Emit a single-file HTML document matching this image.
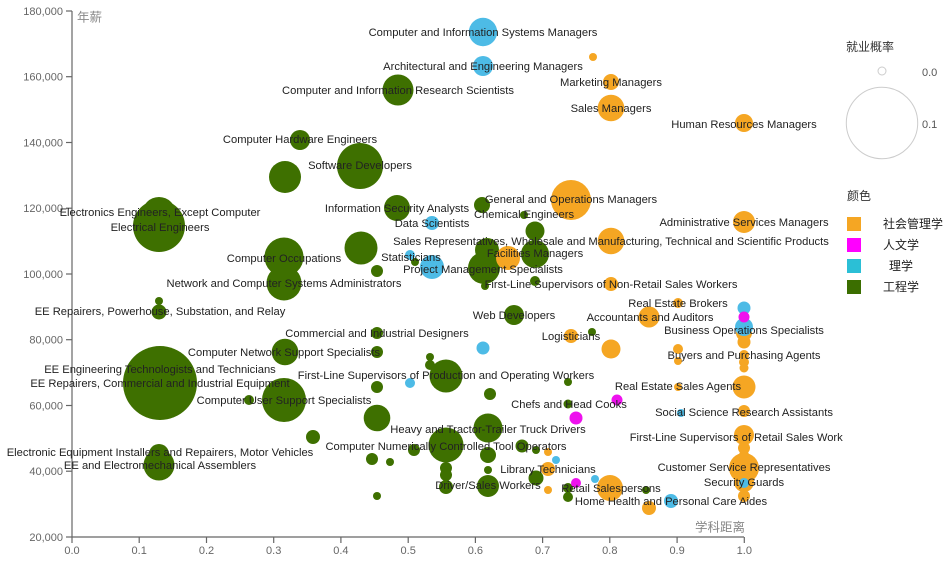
<!DOCTYPE html>
<html>
<head>
<meta charset="utf-8">
<style>
html,body{margin:0;padding:0;background:#fff;}
svg{display:block;}
text{font-family:"Liberation Sans","Noto Sans CJK SC",sans-serif;}
.lbl{font-size:11.2px;fill:#222;text-anchor:middle;}
.tk{font-size:11px;fill:#666;}
</style>
</head>
<body>
<svg width="945" height="561" viewBox="0 0 945 561" xmlns="http://www.w3.org/2000/svg">
<defs>
<clipPath id="cp"><rect x="0" y="0" width="843" height="561"/></clipPath>
</defs>

<!-- axes -->
<g stroke="#666" stroke-width="1.2" fill="none">
<line x1="72" y1="11" x2="72" y2="537"/>
<line x1="72" y1="537" x2="744" y2="537"/>
<line x1="66" y1="11" x2="72" y2="11"/>
<line x1="66" y1="76.7" x2="72" y2="76.7"/>
<line x1="66" y1="142.5" x2="72" y2="142.5"/>
<line x1="66" y1="208.2" x2="72" y2="208.2"/>
<line x1="66" y1="274" x2="72" y2="274"/>
<line x1="66" y1="339.7" x2="72" y2="339.7"/>
<line x1="66" y1="405.5" x2="72" y2="405.5"/>
<line x1="66" y1="471.2" x2="72" y2="471.2"/>
<line x1="66" y1="537" x2="72" y2="537"/>
<line x1="72" y1="537" x2="72" y2="543"/>
<line x1="139.2" y1="537" x2="139.2" y2="543"/>
<line x1="206.5" y1="537" x2="206.5" y2="543"/>
<line x1="273.7" y1="537" x2="273.7" y2="543"/>
<line x1="340.9" y1="537" x2="340.9" y2="543"/>
<line x1="408.2" y1="537" x2="408.2" y2="543"/>
<line x1="475.4" y1="537" x2="475.4" y2="543"/>
<line x1="542.6" y1="537" x2="542.6" y2="543"/>
<line x1="609.8" y1="537" x2="609.8" y2="543"/>
<line x1="677.1" y1="537" x2="677.1" y2="543"/>
<line x1="744.3" y1="537" x2="744.3" y2="543"/>
</g>
<g class="tk" text-anchor="end">
<text x="63" y="11" dy="0.35em">180,000</text>
<text x="63" y="76.7" dy="0.35em">160,000</text>
<text x="63" y="142.5" dy="0.35em">140,000</text>
<text x="63" y="208.2" dy="0.35em">120,000</text>
<text x="63" y="274" dy="0.35em">100,000</text>
<text x="63" y="339.7" dy="0.35em">80,000</text>
<text x="63" y="405.5" dy="0.35em">60,000</text>
<text x="63" y="471.2" dy="0.35em">40,000</text>
<text x="63" y="537" dy="0.35em">20,000</text>
</g>
<g class="tk" text-anchor="middle">
<text x="72" y="554">0.0</text>
<text x="139.2" y="554">0.1</text>
<text x="206.5" y="554">0.2</text>
<text x="273.7" y="554">0.3</text>
<text x="340.9" y="554">0.4</text>
<text x="408.2" y="554">0.5</text>
<text x="475.4" y="554">0.6</text>
<text x="542.6" y="554">0.7</text>
<text x="609.8" y="554">0.8</text>
<text x="677.1" y="554">0.9</text>
<text x="744.3" y="554">1.0</text>
</g>
<text x="77" y="17" dy="0.35em" font-size="12.5" fill="#888">年薪</text>
<text x="745" y="527" dy="0.35em" font-size="12.5" fill="#888" text-anchor="end">学科距离</text>

<!-- green circles -->
<g fill="#3e7000">
<circle cx="300" cy="140" r="10"/>
<circle cx="285" cy="177" r="16"/>
<circle cx="360" cy="166" r="23"/>
<circle cx="398" cy="90" r="15.5"/>
<circle cx="159" cy="226" r="26"/>
<circle cx="159" cy="214" r="17"/>
<circle cx="397" cy="208" r="13"/>
<circle cx="482" cy="205" r="8"/>
<circle cx="524" cy="215" r="4"/>
<circle cx="535" cy="231" r="9.5"/>
<circle cx="361" cy="248" r="16.5"/>
<circle cx="284" cy="257" r="19.5"/>
<circle cx="284" cy="283" r="17.5"/>
<circle cx="415" cy="262" r="4"/>
<circle cx="377" cy="271" r="6"/>
<circle cx="487" cy="250" r="12"/>
<circle cx="484" cy="268" r="16"/>
<circle cx="535" cy="254" r="14"/>
<circle cx="535" cy="281" r="5"/>
<circle cx="485" cy="286" r="4"/>
<circle cx="159" cy="301" r="4"/>
<circle cx="159" cy="312" r="7.5"/>
<circle cx="514" cy="315" r="10"/>
<circle cx="592" cy="332" r="4"/>
<circle cx="377" cy="333" r="6"/>
<circle cx="285" cy="352" r="13.3"/>
<circle cx="377" cy="352" r="6"/>
<circle cx="430" cy="357" r="4"/>
<circle cx="430" cy="365" r="5"/>
<circle cx="446" cy="376" r="16.5"/>
<circle cx="160" cy="383" r="37"/>
<circle cx="377" cy="387" r="6"/>
<circle cx="568" cy="382" r="4"/>
<circle cx="490" cy="394" r="6"/>
<circle cx="284" cy="400" r="22"/>
<circle cx="249" cy="400" r="5"/>
<circle cx="568" cy="404" r="4.5"/>
<circle cx="377" cy="418" r="13.3"/>
<circle cx="488" cy="428" r="14.5"/>
<circle cx="313" cy="437" r="7"/>
<circle cx="446" cy="445" r="17.5"/>
<circle cx="414" cy="450" r="6"/>
<circle cx="522" cy="446" r="6.5"/>
<circle cx="536" cy="450" r="4"/>
<circle cx="488" cy="455" r="8"/>
<circle cx="372" cy="459" r="6"/>
<circle cx="390" cy="462" r="4"/>
<circle cx="446" cy="468" r="6"/>
<circle cx="446" cy="475" r="6"/>
<circle cx="446" cy="487" r="7"/>
<circle cx="488" cy="470" r="4"/>
<circle cx="536" cy="478" r="7.5"/>
<circle cx="488" cy="486" r="11"/>
<circle cx="568" cy="488" r="5"/>
<circle cx="568" cy="497" r="5"/>
<circle cx="377" cy="496" r="4"/>
<circle cx="646" cy="490" r="4"/>
<circle cx="159" cy="454" r="10"/>
<circle cx="159" cy="465" r="15.5"/>
</g>

<!-- orange circles -->
<g fill="#f5a623">
<circle cx="593" cy="57" r="4"/>
<circle cx="611" cy="82" r="8"/>
<circle cx="611" cy="108" r="13.3"/>
<circle cx="744" cy="123" r="9"/>
<circle cx="571" cy="200" r="20"/>
<circle cx="611" cy="241" r="13.3"/>
<circle cx="508" cy="258" r="12"/>
<circle cx="611" cy="284" r="7"/>
<circle cx="744" cy="222" r="11"/>
<circle cx="678" cy="303" r="5"/>
<circle cx="649" cy="317" r="10.5"/>
<circle cx="744" cy="333" r="8"/>
<circle cx="744" cy="342" r="6.5"/>
<circle cx="744" cy="355" r="5"/>
<circle cx="744" cy="362" r="5"/>
<circle cx="744" cy="368" r="4.5"/>
<circle cx="571" cy="336" r="7"/>
<circle cx="611" cy="349" r="9.5"/>
<circle cx="678" cy="349" r="5"/>
<circle cx="678" cy="361" r="4"/>
<circle cx="678" cy="387" r="4"/>
<circle cx="744" cy="387" r="11.5"/>
<circle cx="744" cy="411" r="6"/>
<circle cx="744" cy="435" r="10"/>
<circle cx="744" cy="448" r="6"/>
<circle cx="744" cy="455" r="5"/>
<circle cx="744" cy="468" r="15"/>
<circle cx="744" cy="482" r="10"/>
<circle cx="744" cy="496" r="6"/>
<circle cx="548" cy="452" r="4"/>
<circle cx="548" cy="469" r="7"/>
<circle cx="548" cy="490" r="4"/>
<circle cx="610" cy="488" r="13"/>
<circle cx="649" cy="508" r="7"/>
</g>

<!-- cyan circles -->
<g fill="#4dbbe6">
<circle cx="483" cy="32" r="14.2"/>
<circle cx="483" cy="66" r="10"/>
<circle cx="432" cy="223" r="7"/>
<circle cx="410" cy="255" r="5"/>
<circle cx="432" cy="267" r="12"/>
<circle cx="483" cy="348" r="6.5"/>
<circle cx="410" cy="383" r="5"/>
<circle cx="556" cy="460" r="4"/>
<circle cx="595" cy="479" r="4"/>
<circle cx="744" cy="308" r="6.5"/>
<circle cx="744" cy="327" r="9"/>
<circle cx="681" cy="413" r="4"/>
<circle cx="744" cy="483" r="5"/>
<circle cx="671" cy="501" r="7"/>
</g>

<!-- magenta circles -->
<g fill="#ee11ee">
<circle cx="744" cy="317" r="5.5"/>
<circle cx="617" cy="400" r="5.5"/>
<circle cx="576" cy="418" r="6.5"/>
<circle cx="576" cy="483" r="5"/>
</g>

<!-- labels -->
<g class="lbl" clip-path="url(#cp)">
<text x="483" y="32" dy="0.35em">Computer and Information Systems Managers</text>
<text x="483" y="66" dy="0.35em">Architectural and Engineering Managers</text>
<text x="611" y="82" dy="0.35em">Marketing Managers</text>
<text x="398" y="90" dy="0.35em">Computer and Information Research Scientists</text>
<text x="611" y="108" dy="0.35em">Sales Managers</text>
<text x="744" y="124" dy="0.35em">Human Resources Managers</text>
<text x="300" y="139" dy="0.35em">Computer Hardware Engineers</text>
<text x="360" y="165" dy="0.35em">Software Developers</text>
<text x="571" y="199" dy="0.35em">General and Operations Managers</text>
<text x="160" y="212" dy="0.35em">Electronics Engineers, Except Computer</text>
<text x="397" y="208" dy="0.35em">Information Security Analysts</text>
<text x="524" y="214" dy="0.35em">Chemical Engineers</text>
<text x="744" y="222" dy="0.35em">Administrative Services Managers</text>
<text x="432" y="223" dy="0.35em">Data Scientists</text>
<text x="160" y="227" dy="0.35em">Electrical Engineers</text>
<text x="611" y="241" dy="0.35em">Sales Representatives, Wholesale and Manufacturing, Technical and Scientific Products</text>
<text x="535" y="253" dy="0.35em">Facilities Managers</text>
<text x="411" y="257" dy="0.35em">Statisticians</text>
<text x="284" y="258" dy="0.35em">Computer Occupations</text>
<text x="483" y="269" dy="0.35em">Project Management Specialists</text>
<text x="284" y="283" dy="0.35em">Network and Computer Systems Administrators</text>
<text x="611" y="284" dy="0.35em">First-Line Supervisors of Non-Retail Sales Workers</text>
<text x="678" y="303" dy="0.35em">Real Estate Brokers</text>
<text x="160" y="311" dy="0.35em">EE Repairers, Powerhouse, Substation, and Relay</text>
<text x="514" y="315" dy="0.35em">Web Developers</text>
<text x="650" y="317" dy="0.35em">Accountants and Auditors</text>
<text x="744" y="330" dy="0.35em">Business Operations Specialists</text>
<text x="377" y="333" dy="0.35em">Commercial and Industrial Designers</text>
<text x="571" y="336" dy="0.35em">Logisticians</text>
<text x="284" y="352" dy="0.35em">Computer Network Support Specialists</text>
<text x="744" y="355" dy="0.35em">Buyers and Purchasing Agents</text>
<text x="160" y="369" dy="0.35em">EE Engineering Technologists and Technicians</text>
<text x="446" y="375" dy="0.35em">First-Line Supervisors of Production and Operating Workers</text>
<text x="160" y="383" dy="0.35em">EE Repairers, Commercial and Industrial Equipment</text>
<text x="678" y="386" dy="0.35em">Real Estate Sales Agents</text>
<text x="284" y="400" dy="0.35em">Computer User Support Specialists</text>
<text x="569" y="404" dy="0.35em">Chefs and Head Cooks</text>
<text x="744" y="412" dy="0.35em">Social Science Research Assistants</text>
<text x="488" y="429" dy="0.35em">Heavy and Tractor-Trailer Truck Drivers</text>
<text x="744" y="437" dy="0.35em">First-Line Supervisors of Retail Sales Workers</text>
<text x="446" y="446" dy="0.35em">Computer Numerically Controlled Tool Operators</text>
<text x="160" y="452" dy="0.35em">Electronic Equipment Installers and Repairers, Motor Vehicles</text>
<text x="160" y="465" dy="0.35em">EE and Electromechanical Assemblers</text>
<text x="744" y="467" dy="0.35em">Customer Service Representatives</text>
<text x="548" y="469" dy="0.35em">Library Technicians</text>
<text x="744" y="482" dy="0.35em">Security Guards</text>
<text x="488" y="485" dy="0.35em">Driver/Sales Workers</text>
<text x="611" y="488" dy="0.35em">Retail Salespersons</text>
<text x="671" y="501" dy="0.35em">Home Health and Personal Care Aides</text>
</g>

<!-- size legend -->
<text x="846" y="47" dy="0.35em" font-size="12" fill="#333">就业概率</text>
<circle cx="882" cy="71" r="4" fill="#fff" stroke="#ccc" stroke-width="1"/>
<circle cx="882" cy="123" r="35.7" fill="#fff" stroke="#ccc" stroke-width="1"/>
<text x="922" y="72" dy="0.35em" font-size="11" fill="#555">0.0</text>
<text x="922" y="124" dy="0.35em" font-size="11" fill="#555">0.1</text>

<!-- color legend -->
<text x="847" y="196" dy="0.35em" font-size="12" fill="#333">颜色</text>
<rect x="847" y="217" width="14" height="14" fill="#f5a623"/>
<rect x="847" y="238" width="14" height="14" fill="#ff00ff"/>
<rect x="847" y="259" width="14" height="14" fill="#2bbfd6"/>
<rect x="847" y="280" width="14" height="14" fill="#3b6e00"/>
<g font-size="12" fill="#222">
<text x="883" y="224" dy="0.35em">社会管理学</text>
<text x="883" y="245" dy="0.35em">人文学</text>
<text x="889" y="266" dy="0.35em">理学</text>
<text x="883" y="287" dy="0.35em">工程学</text>
</g>
</svg>
</body>
</html>
